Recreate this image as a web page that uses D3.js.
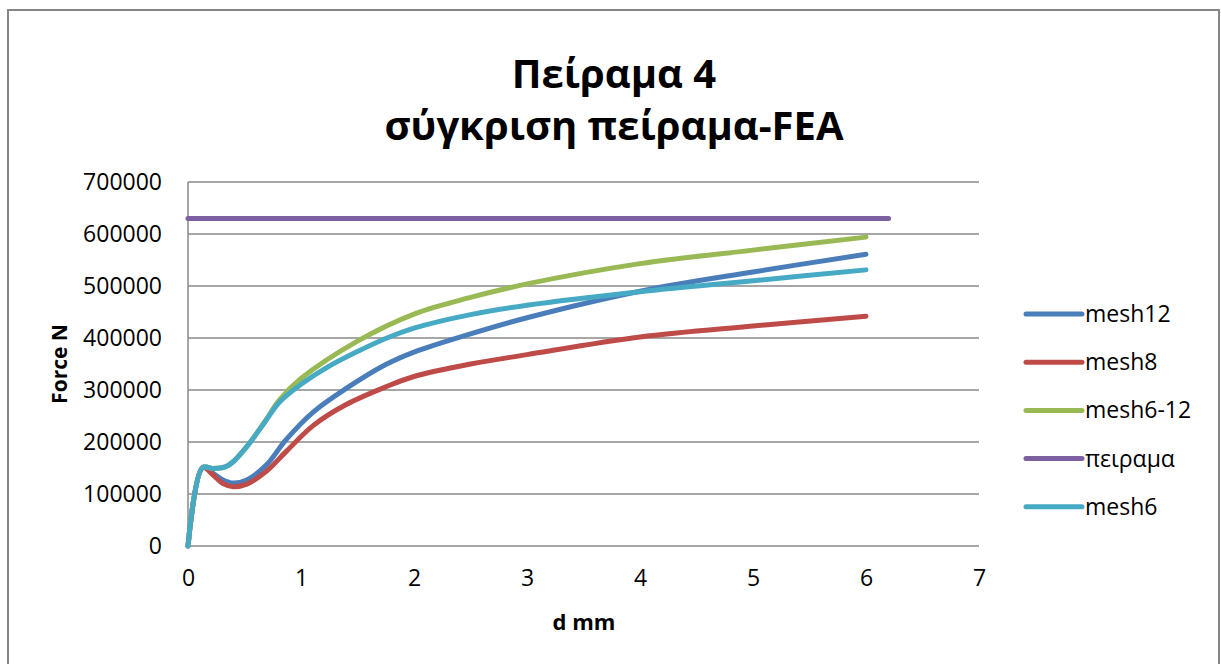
<!DOCTYPE html>
<html>
<head>
<meta charset="utf-8">
<script src="https://cdn.jsdelivr.net/npm/d3@7/dist/d3.min.js"></script>
<style>
  html, body { margin: 0; padding: 0; background: #fff; }
  svg { display: block; }
  text { font-family: "Open Sans", "Noto Sans", sans-serif; fill: #000; }
</style>
</head>
<body>
<svg id="chart" width="1221" height="664"></svg>
<script>
// Force–displacement curves: FEA meshes vs. the experiment
const seriesNames = ["mesh12", "mesh8", "mesh6-12", "πειραμα", "mesh6"];
const seriesColors = ["#4A7EBB", "#BE4B48", "#98B954", "#7D60A0", "#46AAC5"];

const mesh12D = [0, 0.13, 0.22, 0.31, 0.40, 0.52, 0.69, 0.87, 1.11, 1.40, 1.75, 2.0, 2.5, 3.0, 4.0, 5.0, 6.0];
const mesh12F = [0, 151000, 140000, 127000, 121000, 127000, 155000, 205000, 258000, 303000, 349000, 373000, 408000, 439000, 490000, 527000, 561000];

const mesh8D = [0, 0.13, 0.22, 0.31, 0.40, 0.52, 0.69, 0.87, 1.11, 1.40, 1.75, 2.0, 2.5, 3.0, 4.0, 5.0, 6.0];
const mesh8F = [0, 151000, 137000, 120000, 114000, 119000, 143000, 182000, 232000, 272000, 306000, 326000, 350000, 368000, 402000, 423000, 442000];

const mesh612D = [0, 0.13, 0.22, 0.33, 0.40, 0.52, 0.67, 0.81, 1.0, 1.5, 2.0, 2.5, 3.0, 4.0, 5.0, 6.0];
const mesh612F = [0, 151000, 149000, 152000, 162000, 191000, 236000, 281000, 322000, 394000, 446000, 478000, 504000, 543000, 569000, 594000];

const experimentD = [0, 6.2];
const experimentF = [630000, 630000];

const mesh6D = [0, 0.13, 0.22, 0.33, 0.40, 0.52, 0.67, 0.81, 1.0, 1.25, 1.5, 1.75, 2.0, 2.5, 3.0, 4.0, 5.0, 6.0];
const mesh6F = [0, 151000, 149000, 152000, 162000, 191000, 235000, 277000, 311000, 346000, 374000, 399000, 419000, 445000, 463000, 489000, 510000, 531000];

const xTicks = [0, 1, 2, 3, 4, 5, 6, 7];
const yTicks = [0, 100000, 200000, 300000, 400000, 500000, 600000, 700000];

const seriesD = [mesh12D, mesh8D, mesh612D, experimentD, mesh6D];
const seriesF = [mesh12F, mesh8F, mesh612F, experimentF, mesh6F];

const svg = d3.select("#chart");

// outer chart frame
svg.append("rect")
  .attr("x", 8).attr("y", 10).attr("width", 1211).attr("height", 660)
  .attr("fill", "#fff").attr("stroke", "#868686").attr("stroke-width", 2);

const x = d3.scaleLinear().domain([0, 7]).range([188, 979]);
const y = d3.scaleLinear().domain([0, 700000]).range([546, 182]);

// horizontal gridlines
svg.append("g")
  .selectAll("line").data(yTicks).join("line")
  .attr("x1", x(0)).attr("x2", x(7))
  .attr("y1", d => y(d)).attr("y2", d => y(d))
  .attr("stroke", "#888").attr("stroke-width", 1.5);

// vertical axis line
svg.append("line")
  .attr("x1", x(0)).attr("x2", x(0)).attr("y1", y(0)).attr("y2", y(700000))
  .attr("stroke", "#888").attr("stroke-width", 1.5);

// y tick labels
const yAxis = d3.axisLeft(y).tickValues(yTicks).tickSize(0).tickPadding(26).tickFormat(d3.format("d"));
const gy = svg.append("g").attr("transform", `translate(${x(0)},0)`).call(yAxis);
gy.select(".domain").remove();
gy.selectAll("text").style("font-size", "23px").style("font-family", "'Open Sans', sans-serif").attr("fill", "#000");

// x tick labels
const xAxis = d3.axisBottom(x).tickValues(xTicks).tickSize(0).tickPadding(24).tickFormat(d3.format("d"));
const gx = svg.append("g").attr("transform", `translate(0,${y(0)})`).call(xAxis);
gx.select(".domain").remove();
gx.selectAll("text").style("font-size", "23px").style("font-family", "'Open Sans', sans-serif").attr("fill", "#000");

// series lines
const line = d3.line()
  .x(p => x(p[0])).y(p => y(p[1]))
  .curve(d3.curveCatmullRom.alpha(0.5));

seriesNames.forEach((name, i) => {
  const pts = seriesD[i].map((d, k) => [d, seriesF[i][k]]);
  svg.append("path")
    .datum(pts)
    .attr("d", line)
    .attr("fill", "none")
    .attr("stroke", seriesColors[i])
    .attr("stroke-width", 5)
    .attr("stroke-linecap", "round")
    .attr("stroke-linejoin", "round");
});

// title
const title = svg.append("text")
  .attr("text-anchor", "middle")
  .style("font-weight", "bold").style("font-size", "40px");
title.append("tspan").attr("x", 614).attr("y", 88).text("Πείραμα 4");
title.append("tspan").attr("x", 614).attr("y", 140).text("σύγκριση πείραμα-FEA");

// axis titles
svg.append("text")
  .attr("x", 584).attr("y", 630).attr("text-anchor", "middle")
  .style("font-weight", "bold").style("font-size", "22px")
  .text("d mm");

svg.append("text")
  .attr("transform", "translate(67,364) rotate(-90)")
  .attr("text-anchor", "middle")
  .style("font-weight", "bold").style("font-size", "21px")
  .text("Force N");

// legend
const legend = svg.append("g");
seriesNames.forEach((name, i) => {
  const ly = 314 + i * 48.2;
  legend.append("line")
    .attr("x1", 1026).attr("x2", 1082).attr("y1", ly).attr("y2", ly)
    .attr("stroke", seriesColors[i]).attr("stroke-width", 5)
    .attr("stroke-linecap", "round");
  legend.append("text")
    .attr("x", 1085).attr("y", ly).attr("dy", "0.35em")
    .style("font-size", "23px")
    .text(name);
});
</script>
</body>
</html>
